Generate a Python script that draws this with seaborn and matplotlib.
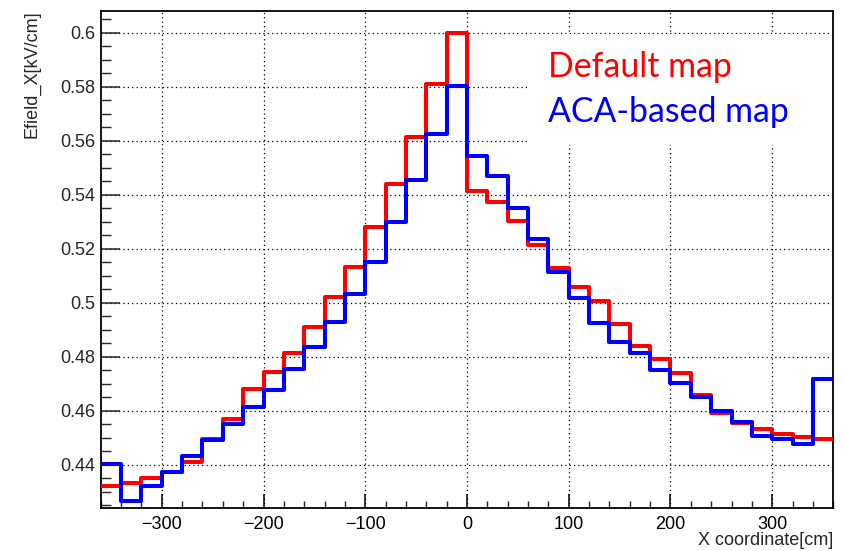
import numpy as np
import pandas as pd
import seaborn as sns
import matplotlib.pyplot as plt
from matplotlib.ticker import MultipleLocator

# Bin edges of the field profile histogram (20 cm bins)
bin_edges = list(range(-360, 361, 20))
bin_centers = [e + 10 for e in bin_edges[:-1]]

# Mean E-field X component per bin [kV/cm]
default_map = [
    0.4322, 0.4331, 0.4350, 0.4372, 0.4411, 0.4495, 0.4568, 0.4681, 0.4743,
    0.4815, 0.4911, 0.5020, 0.5131, 0.5279, 0.5441, 0.5613, 0.5809, 0.5998,
    0.5414, 0.5374, 0.5304, 0.5214, 0.5127, 0.5059, 0.5005, 0.4922, 0.4838,
    0.4790, 0.4739, 0.4658, 0.4590, 0.4556, 0.4532, 0.4514, 0.4501, 0.4495,
]
aca_map = [
    0.4401, 0.4266, 0.4321, 0.4372, 0.4431, 0.4492, 0.4550, 0.4614, 0.4677,
    0.4753, 0.4837, 0.4930, 0.5031, 0.5152, 0.5300, 0.5456, 0.5625, 0.5804,
    0.5544, 0.5470, 0.5350, 0.5235, 0.5115, 0.5016, 0.4926, 0.4855, 0.4815,
    0.4751, 0.4701, 0.4652, 0.4599, 0.4558, 0.4507, 0.4495, 0.4475, 0.4717,
]
series_labels = ["Default map", "ACA-based map"]
series_colors = ["#ff0000", "#0000ff"]

df = pd.DataFrame({
    "x": bin_centers + bin_centers,
    "field": default_map + aca_map,
    "map": [series_labels[0]] * len(bin_centers) + [series_labels[1]] * len(bin_centers),
})

sns.set_style("white")
plt.rcParams["font.family"] = ["Liberation Sans", "DejaVu Sans"]

W, H = 844, 551
fig = plt.figure(figsize=(W / 100, H / 100), dpi=100)
left, right, top, bottom = 100.7, 833.3, 10.7, 507.7
ax = fig.add_axes([left / W, 1 - bottom / H, (right - left) / W, (bottom - top) / H])

for label, color in zip(series_labels, series_colors):
    sub = df[df["map"] == label]
    sns.histplot(data=sub, x="x", weights="field", bins=bin_edges,
                 element="step", fill=False, color=color, linewidth=2.9,
                 ax=ax, zorder=5)

ax.set_xlim(-360, 360)
ax.set_ylim(0.4241, 0.6081)

ax.xaxis.set_major_locator(MultipleLocator(100))
ax.xaxis.set_minor_locator(MultipleLocator(20))
ax.yaxis.set_major_locator(MultipleLocator(0.02))
ax.yaxis.set_minor_locator(MultipleLocator(0.005))
ax.yaxis.set_major_formatter(plt.FuncFormatter(lambda v, p: f"{v:.2f}".rstrip("0").rstrip(".")))
ax.xaxis.set_major_formatter(plt.FuncFormatter(lambda v, p: f"{int(round(v))}".replace("-", "\u2212")))

ax.tick_params(axis="x", which="major", direction="in", length=10, width=1.1,
               labelsize=13, pad=6, colors="black", bottom=True, top=False)
ax.tick_params(axis="x", which="minor", direction="in", length=5, width=1.0,
               bottom=True, top=False)
ax.tick_params(axis="y", which="major", direction="in", length=14, width=1.1,
               labelsize=13, pad=4, left=True, right=False)
ax.tick_params(axis="y", which="minor", direction="in", length=7.5, width=1.0,
               left=True, right=False)

ax.grid(True, which="major", color="black", linestyle=(0, (1, 2.5)), linewidth=0.9)
ax.set_axisbelow(True)
for s in ax.spines.values():
    s.set_color("black")
    s.set_linewidth(1.3)

ax.set_xlabel("X coordinate[cm]", fontsize=13, loc="right", labelpad=-1)
ax.set_ylabel("Efield_X[kV/cm]", fontsize=13, loc="top", labelpad=14)

# Legend panel: white box covering the grid, text in series colours
bx0 = (527 - left) / (right - left)
bx1 = (829 - left) / (right - left)
by0 = (bottom - 145) / (bottom - top)
by1 = (bottom - 34) / (bottom - top)
ax.add_patch(plt.Rectangle((bx0, by0), bx1 - bx0, by1 - by0, transform=ax.transAxes,
                           facecolor="white", edgecolor="none", zorder=2))
for i, (label, color) in enumerate(zip(series_labels, series_colors)):
    ty = (bottom - (77 + 45.5 * i)) / (bottom - top)
    ax.text((548 - left) / (right - left), ty, label, transform=ax.transAxes,
            color=color, fontsize=24.4, family=["Lato", "DejaVu Sans"],
            ha="left", va="baseline", zorder=6)

fig.savefig("out.png", dpi=100, facecolor="white")
